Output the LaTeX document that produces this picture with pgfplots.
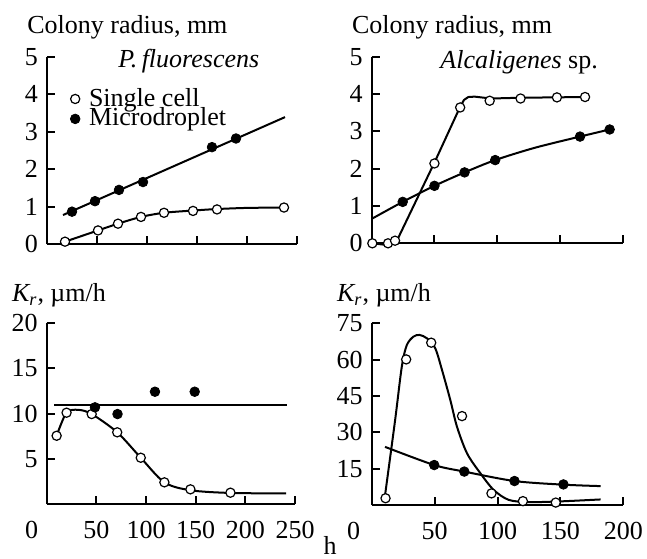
\documentclass[border=0pt]{standalone}
\usepackage{fontspec}
\setmainfont{Liberation Serif}
\usepackage{pgfplots}
\pgfplotsset{compat=1.18}
\pgfplotsset{
  every axis/.append style={
    scale only axis,
    axis lines=left,
    axis line style={line width=1pt,-},
    tick align=inside,
    major tick length=4pt,
    tick style={line width=1pt,black},
    clip=false,
    /pgf/number format/assume math mode=true,
    tick label style={font=\fontsize{13}{15}\selectfont},
    xticklabel style={yshift=-4pt},
    ymin=0,
  },
  curve/.style={black,line width=1pt,no marks},
  open/.style={only marks,mark=*,mark size=2.3pt,mark options={fill=white,draw=black,line width=0.6pt}},
  full/.style={only marks,mark=*,mark size=2.4pt,mark options={fill=black,draw=black}},
}
\begin{document}
\fontsize{13}{15}\selectfont
\begin{tikzpicture}
\useasboundingbox (0,0) rectangle (323.5pt,-279pt);
% ---------- top left
\begin{axis}[at={(23.5pt,-122.15pt)},anchor=south west,width=125pt,height=93.8pt,
  xmin=0,xmax=250,ymax=5,xtick={50,100,150,200,250},xticklabel=\empty,ytick={0,1,2,3,4,5},
  legend style={at={(axis cs:23,4.23)},anchor=north west,draw=none,fill=none,inner sep=0pt,
    row sep=-3pt,font=\fontsize{13}{15}\selectfont,nodes={inner sep=1pt},
    /tikz/every odd column/.append style={column sep=3.5pt}},
  legend cell align=left,
  legend image code/.code={\draw[#1,mark repeat=2,mark phase=2] plot coordinates {(0pt,0pt)(4pt,0pt)(8pt,0pt)};}]
\addplot[curve,smooth,forget plot] coordinates {(18,0.07)(51,0.37)(71,0.55)(94,0.73)(117,0.84)(146,0.90)(170,0.94)(200,0.97)(237,0.98)};
\addplot[curve,forget plot] coordinates {(16,0.78)(238,3.39)};
\addplot[open] coordinates {(18,0.07)(51,0.37)(71,0.55)(94,0.73)(117,0.84)(146,0.89)(170,0.93)(237,0.98)};
\addlegendentry{Single cell}
\addplot[full] coordinates {(25,0.87)(48,1.15)(72,1.45)(96,1.66)(165,2.59)(189,2.82)};
\addlegendentry{Microdroplet}
\end{axis}
% ---------- top right
\begin{axis}[at={(185.85pt,-121.65pt)},anchor=south west,width=125.5pt,height=93.3pt,
  xmin=0,xmax=200,ymax=5,xtick={50,100,150,200},xticklabel=\empty,ytick={0,1,2,3,4,5}]
\addplot[curve] coordinates {(1,0)(13,-0.05)(18.6,0.0)(20.5,0.1)(50.5,2.2)(70.5,3.66)(73.5,3.84)(77,3.92)(82,3.93)(95,3.88)(118,3.9)(170,3.92)};
\addplot[curve,smooth] coordinates {(0.8,0.67)(24.7,1.11)(50,1.54)(74,1.90)(98.4,2.23)(130,2.56)(166,2.86)(189.6,3.05)};
\addplot[open] coordinates {(0.5,0)(13,0)(18.6,0.07)(50,2.14)(70.5,3.64)(94,3.82)(118.6,3.88)(147.6,3.91)(170,3.92)};
\addplot[full] coordinates {(24.7,1.11)(50,1.54)(74,1.90)(98.4,2.23)(166,2.86)(189.6,3.05)};
\end{axis}
% ---------- bottom left
\begin{axis}[at={(23.35pt,-252.15pt)},anchor=south west,width=124.15pt,height=90.8pt,
  xmin=0,xmax=250,ymax=20,xtick={50,100,150,200,250},ytick={5,10,15,20},
  extra x ticks={0},extra x tick style={major tick length=0pt,xticklabel style={xshift=-7.5pt}}]
\addplot[curve,smooth] coordinates {(10,7.55)(20,10.1)(32,10.4)(45.3,9.94)(71,7.93)(94.7,5.13)(118.5,2.42)(144.7,1.55)(185,1.25)(241,1.21)};
\addplot[curve] coordinates {(7.4,10.94)(242,10.94)};
\addplot[open] coordinates {(10,7.55)(20,10.09)(45.3,9.94)(71,7.93)(94.7,5.13)(118.5,2.42)(144.7,1.65)(185,1.28)};
\addplot[full] coordinates {(48.6,10.68)(71.3,9.94)(109,12.4)(149,12.4)};
\end{axis}
% ---------- bottom right
\begin{axis}[at={(185.85pt,-252.5pt)},anchor=south west,width=125.8pt,height=90.85pt,
  xmin=0,xmax=200,ymax=75,xtick={50,100,150,200},ytick={15,30,45,60,75},
  extra x ticks={0},extra x tick style={major tick length=0pt,xticklabel style={xshift=-9pt}}]
\addplot[curve,smooth] coordinates {(10.6,4)(18.6,35)(23.9,57)(27.9,66)(33.2,69.5)(38,70.2)(43.9,68.8)(50.5,64.7)(55.9,55.7)(62.5,43.3)(67.8,32.3)(75.8,21.3)(86.4,13.1)(97,6.2)(109,2.1)(125,1.2)(150,1.5)(182,2.3)};
\addplot[curve,smooth] coordinates {(10.6,24)(49.7,16.5)(73.6,13.8)(113.5,9.9)(152.4,8.4)(182,7.8)};
\addplot[open] coordinates {(11,2.8)(27.4,60.1)(47.3,67)(71.8,36.7)(95.2,4.8)(120.2,1.6)(146.3,1.0)};
\addplot[full] coordinates {(49.7,16.5)(73.6,13.8)(113.5,9.9)(152.4,8.5)};
\end{axis}
% ---------- texts
\node[anchor=base west,inner sep=0pt] at (13.5pt,-16.5pt) {Colony radius, mm};
\node[anchor=base west,inner sep=0pt] at (175.85pt,-16.5pt) {Colony radius, mm};
\node[anchor=base west,inner sep=0pt] at (59pt,-33.5pt) {\itshape P.\,fluorescens};
\node[anchor=base west,inner sep=0pt] at (220pt,-34.2pt) {{\itshape Alcaligenes} sp.};
\node[anchor=base west,inner sep=0pt] at (5.85pt,-150.85pt) {{\itshape K}\textsubscript{\itshape r}, µm/h};
\node[anchor=base west,inner sep=0pt] at (168.35pt,-150.85pt) {{\itshape K}\textsubscript{\itshape r}, µm/h};
\node[anchor=base,inner sep=0pt] at (165pt,-277pt) {h};
\end{tikzpicture}
\end{document}
